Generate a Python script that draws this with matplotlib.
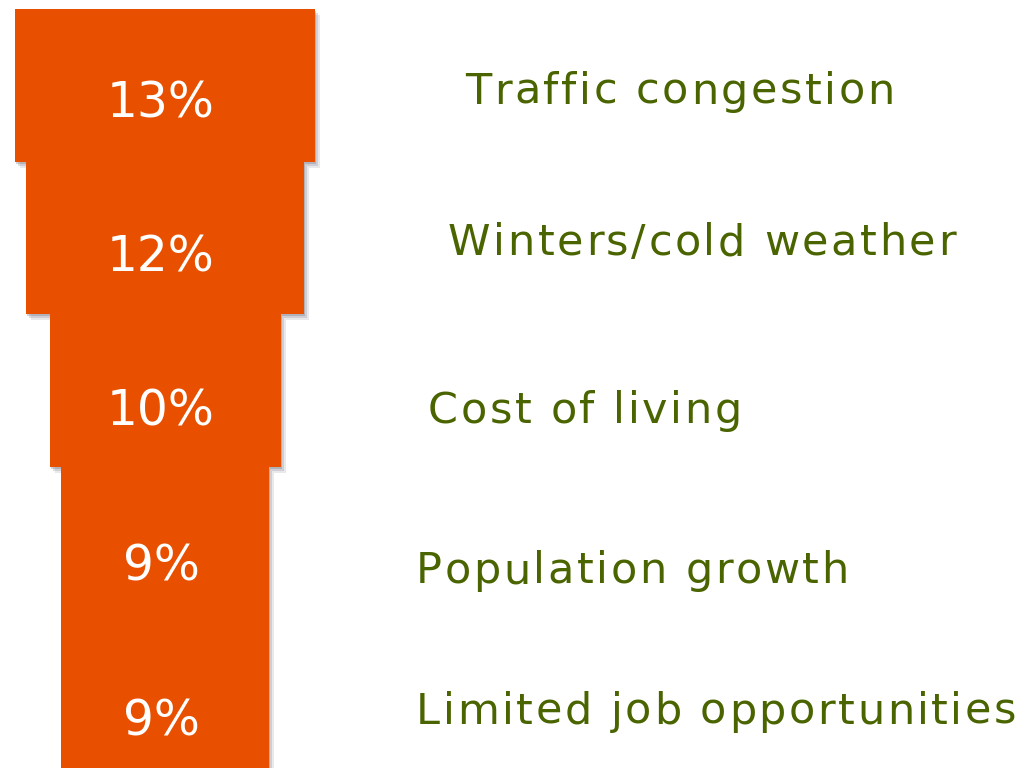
import matplotlib.pyplot as plt
from matplotlib.patches import Rectangle

# данные
values = [13, 12, 10, 9, 9]
pct_labels = ['13%', '12%', '10%', '9%', '9%']
reasons = ['Traffic congestion', 'Winters/cold weather', 'Cost of living',
           'Population growth', 'Limited job opportunities']

orange = '#E85000'
green = '#4A6400'

fig = plt.figure(figsize=(10.25, 7.68), dpi=100)
ax = fig.add_axes([0, 0, 1, 1])
ax.set_xlim(0, 1025)
ax.set_ylim(768, 0)
ax.axis('off')
renderer = fig.canvas.get_renderer()

cx = 165          # центр воронки
px_per_pct = 23.1 # ширина на 1%
top = 9
band = 152.5


def spaced_text(x, y, s, spacing, **kw):
    # текст с разрядкой: рисуем по буквам
    for ch in s:
        t = ax.text(x, y, ch, **kw)
        w = t.get_window_extent(renderer).width
        x += w + spacing


# тени
for i, v in enumerate(values):
    w = v * px_per_pct
    y0 = top + i * band
    for k, a in zip([7, 5, 3], [0.15, 0.22, 0.3]):
        ax.add_patch(Rectangle((cx - w / 2 + k - 2, y0 + k - 1), w, band,
                               color='#707080', alpha=a, lw=0, zorder=1))

for i, v in enumerate(values):
    w = v * px_per_pct
    y0 = top + i * band
    ax.add_patch(Rectangle((cx - w / 2, y0), w, band, color=orange, lw=0, zorder=2))
    ax.text(cx - 4, y0 + 108 + 2 * i, pct_labels[i], color='white', fontsize=35,
            family='DejaVu Sans', ha='center', va='baseline', zorder=3)

label_x = [465, 448, 428, 416, 416]
label_base = [104, 255, 423, 583, 724]
for s, x, y in zip(reasons, label_x, label_base):
    spaced_text(x, y, s, 2.6, color=green, fontsize=31, family='DejaVu Sans',
                ha='left', va='baseline', zorder=3)

fig.savefig('out.png', dpi=100)
